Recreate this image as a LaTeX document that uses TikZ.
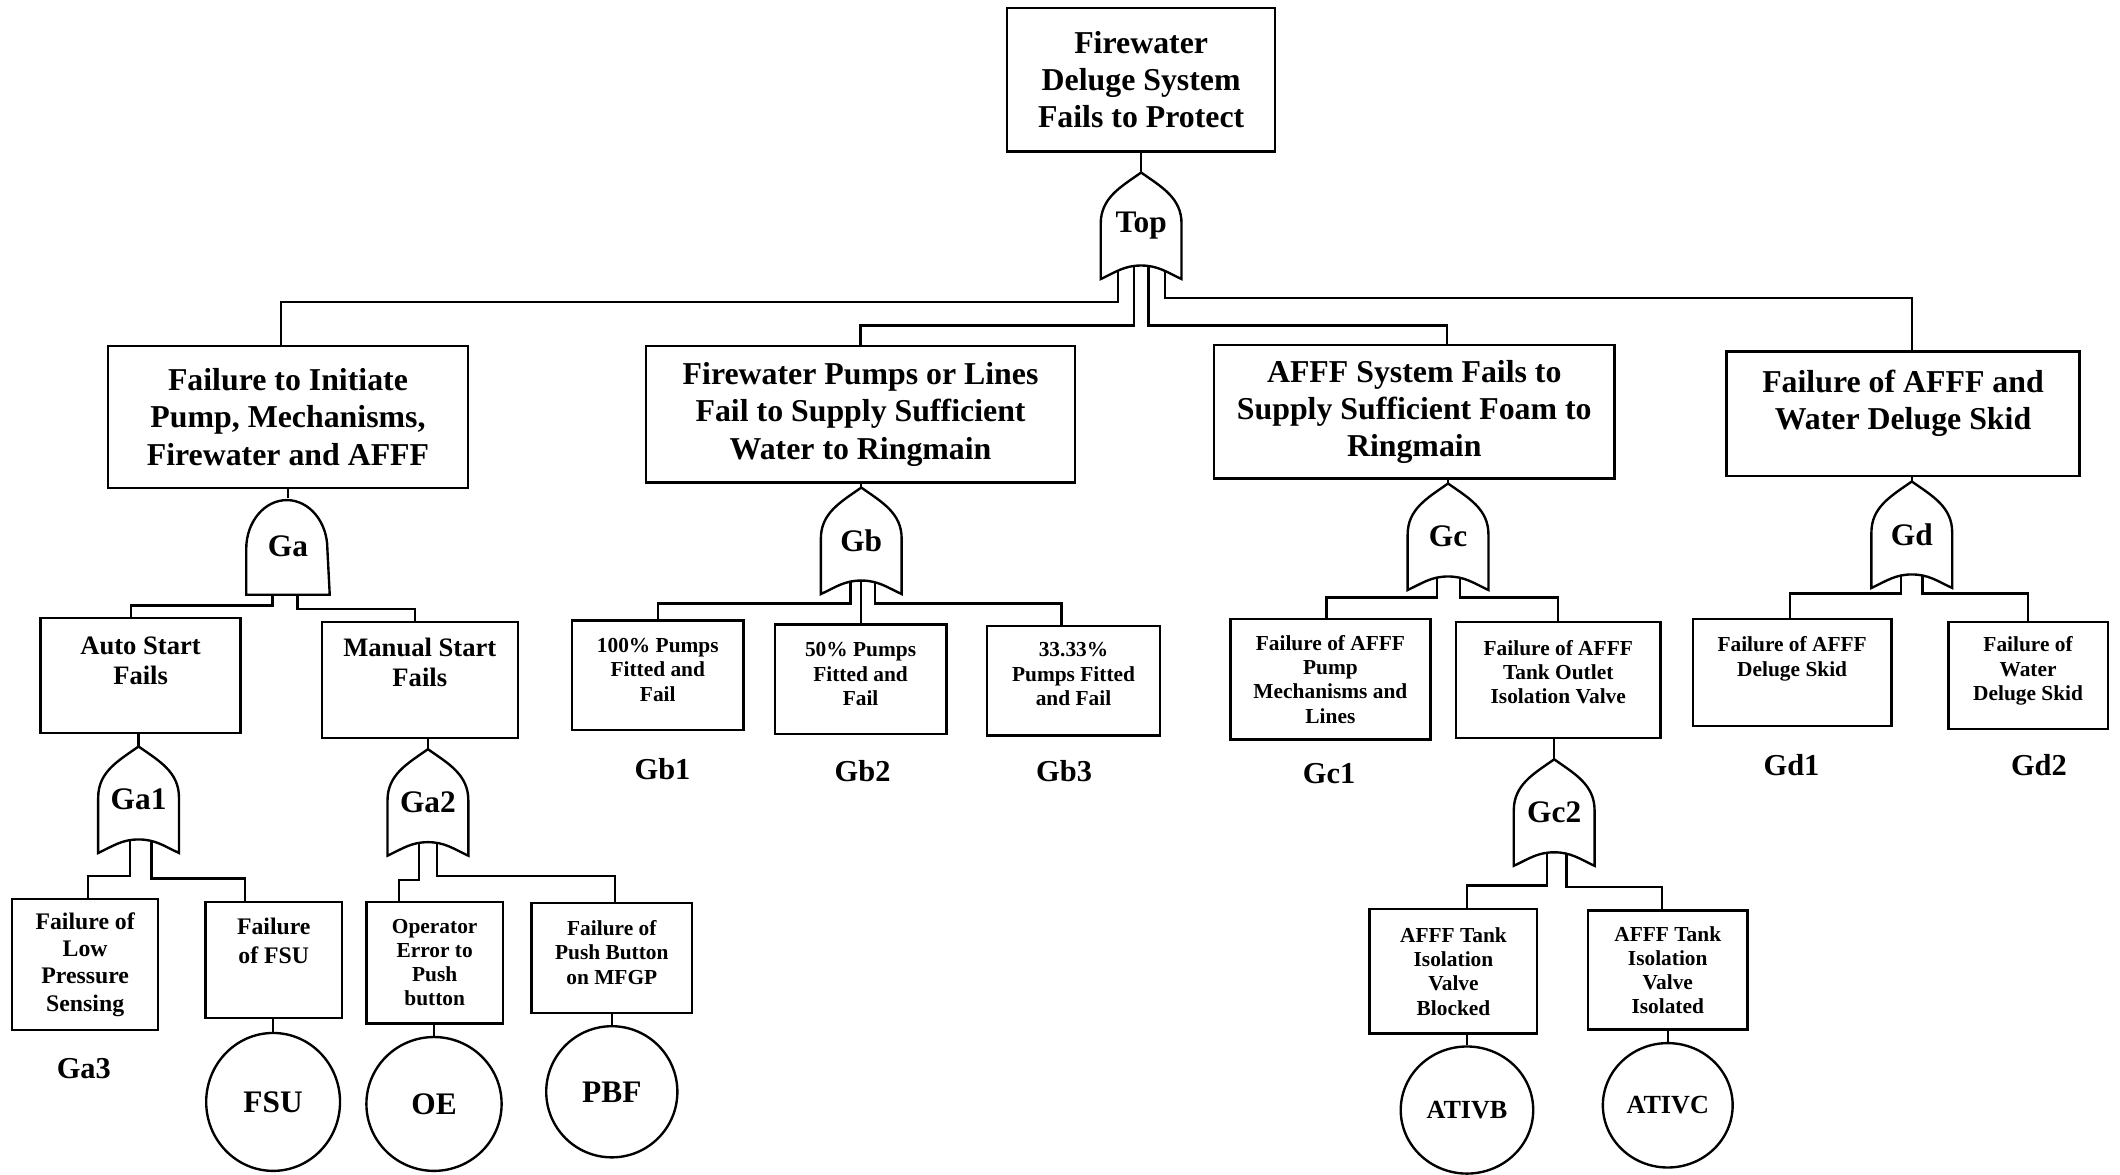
\documentclass[tikz,border=0pt]{standalone}
\usepackage{fontspec}
\setmainfont{Liberation Serif}
\usetikzlibrary{shapes.geometric}

\begin{document}
\begin{tikzpicture}[x=1cm, y=1cm, line width=0.5pt]
  \tikzset{
    box/.style 2 args={draw, inner sep=0pt, align=center, minimum width=#1, minimum height=#2},
    big/.style={font=\bfseries\fontsize{6.7}{7.8}\selectfont},
    mid/.style={font=\bfseries\fontsize{5.6}{6.3}\selectfont},
    small/.style={font=\bfseries\fontsize{4.5}{5.1}\selectfont},
    lift/.style={text depth=#1},
    tag/.style={font=\bfseries\fontsize{6.4}{7}\selectfont},
    event/.style 2 args={draw, ellipse, inner sep=0pt, minimum width=#1, minimum height=#2,
      font=\bfseries\fontsize{6.6}{7}\selectfont},
    orgate/.style={minimum width=5.8mm, minimum height=7.7mm, inner sep=0pt,
      font=\bfseries\fontsize{6.6}{7}\selectfont,
      append after command={\pgfextra{\draw
        (\tikzlastnode.south west) -- ++(0,4.1mm)
        to[out=90,in=215] (\tikzlastnode.north)
        to[out=-35,in=90] ([yshift=4.1mm]\tikzlastnode.south east)
        -- (\tikzlastnode.south east)
        to[out=155,in=0] ([yshift=1mm]\tikzlastnode.south)
        to[out=180,in=25] (\tikzlastnode.south west) -- cycle;}}},
    andgate/.style={minimum width=6mm, minimum height=7mm, inner sep=0pt,
      font=\bfseries\fontsize{6.6}{7}\selectfont,
      append after command={\pgfextra{\draw
        (\tikzlastnode.south west) -- ++(0,3.4mm)
        arc[start angle=180, end angle=0, x radius=3mm, y radius=3.6mm]
        -- (\tikzlastnode.south east) -- cycle;}}}
  }
  \useasboundingbox (0,0) rectangle (15.68,-8.69);

  % top event
  \node[box={1.98cm}{1.06cm}, big] (fire) at (8.44,-0.59) {Firewater\\Deluge System\\Fails to Protect};
  \node[orgate] (top) at (8.44,-1.67) {Top};

  % first level
  \node[box={2.66cm}{1.05cm}, big] (fa) at (2.13,-3.085) {Failure to Initiate\\Pump, Mechanisms,\\Firewater and AFFF};
  \node[box={3.17cm}{1.01cm}, big] (fb) at (6.365,-3.065) {Firewater Pumps or Lines\\Fail to Supply Sufficient\\Water to Ringmain};
  \node[box={2.96cm}{0.99cm}, big] (fc) at (10.46,-3.045) {AFFF System Fails to\\Supply Sufficient Foam to\\Ringmain};
  \node[box={2.61cm}{0.92cm}, big, lift=5.7pt] (fd) at (14.075,-3.06) {Failure of AFFF and\\Water Deluge Skid};

  \node[andgate] (ga) at (2.13,-4.04) {Ga};
  \node[orgate] (gb) at (6.37,-4.00) {Gb};
  \node[orgate] (gc) at (10.71,-3.97) {Gc};
  \node[orgate] (gd) at (14.14,-3.955) {Gd};

  % second level
  \node[box={1.48cm}{0.85cm}, mid, lift=6.2pt] (auto) at (1.04,-4.995) {Auto Start\\Fails};
  \node[box={1.45cm}{0.86cm}, mid, lift=7.4pt] (manual) at (3.105,-5.03) {Manual Start\\Fails};
  \node[box={1.27cm}{0.81cm}, small, lift=2.3pt] (gb1box) at (4.865,-4.995) {100\% Pumps\\Fitted and\\Fail};
  \node[box={1.27cm}{0.81cm}, small, lift=2.3pt] (gb2box) at (6.365,-5.025) {50\% Pumps\\Fitted and\\Fail};
  \node[box={1.28cm}{0.81cm}, small, lift=2.8pt] (gb3box) at (7.94,-5.035) {33.33\%\\Pumps Fitted\\and Fail};
  \node[box={1.48cm}{0.89cm}, small] (gc1box) at (9.84,-5.025) {Failure of AFFF\\Pump\\Mechanisms and\\Lines};
  \node[box={1.51cm}{0.86cm}, small, lift=3.4pt] (outlet) at (11.525,-5.03) {Failure of AFFF\\Tank Outlet\\Isolation Valve};
  \node[box={1.47cm}{0.79cm}, small, lift=6.8pt] (gd1box) at (13.255,-4.975) {Failure of AFFF\\Deluge Skid};
  \node[box={1.18cm}{0.79cm}, small, lift=2.8pt] (gd2box) at (15.0,-4.995) {Failure of\\Water\\Deluge Skid};

  \node[tag] (gb1) at (4.90,-5.69) {Gb1};
  \node[tag] (gb2) at (6.38,-5.70) {Gb2};
  \node[tag] (gb3) at (7.87,-5.70) {Gb3};
  \node[tag] (gc1) at (9.83,-5.72) {Gc1};
  \node[tag] (gd1) at (13.25,-5.66) {Gd1};
  \node[tag] (gd2) at (15.08,-5.66) {Gd2};

  \node[orgate] (ga1) at (1.025,-5.915) {Ga1};
  \node[orgate] (ga2) at (3.165,-5.935) {Ga2};
  \node[orgate] (gc2) at (11.495,-6.01) {Gc2};

  % third level
  \node[box={1.08cm}{0.97cm}, font=\bfseries\fontsize{5}{5.7}\selectfont] (lowp) at (0.63,-7.135) {Failure of\\Low\\Pressure\\Sensing};
  \node[box={1.01cm}{0.86cm}, font=\bfseries\fontsize{5}{6}\selectfont, lift=8pt] (fsufail) at (2.025,-7.10) {Failure\\of FSU};
  \node[box={1.01cm}{0.90cm}, small] (operr) at (3.215,-7.12) {Operator\\Error to\\Push\\button};
  \node[box={1.19cm}{0.81cm}, small, lift=2.3pt] (pushbtn) at (4.525,-7.085) {Failure of\\Push Button\\on MFGP};
  \node[box={1.24cm}{0.92cm}, small] (blocked) at (10.75,-7.185) {AFFF Tank\\Isolation\\Valve\\Blocked};
  \node[box={1.18cm}{0.88cm}, small] (isolated) at (12.335,-7.175) {AFFF Tank\\Isolation\\Valve\\Isolated};
  \node[tag] (ga3) at (0.62,-7.90) {Ga3};

  % basic events
  \node[event={0.99cm}{1.02cm}] (fsu) at (2.02,-8.15) {FSU};
  \node[event={1.0cm}{0.99cm}] (oe) at (3.21,-8.165) {OE};
  \node[event={0.97cm}{0.97cm}] (pbf) at (4.525,-8.075) {PBF};
  \node[event={0.98cm}{0.94cm}, font=\bfseries\fontsize{5.5}{6}\selectfont] (ativb) at (10.85,-8.21) {ATIVB};
  \node[event={0.96cm}{0.92cm}, font=\bfseries\fontsize{5.5}{6}\selectfont] (ativc) at (12.335,-8.175) {ATIVC};

  % connectors
  \draw (top.north) -- (fire.south);
  \draw ([xshift=-1.7mm,yshift=0.6mm]top.south) -- ++(0,-2.3mm) -| ([xshift=-0.5mm]fa.north);
  \draw ([xshift=-0.55mm,yshift=0.95mm]top.south) -- ++(0,-4.4mm) -| (fb.north);
  \draw ([xshift=0.55mm,yshift=0.95mm]top.south) -- ++(0,-4.4mm) -| ([xshift=2.4mm]fc.north);
  \draw ([xshift=1.75mm,yshift=0.6mm]top.south) -- ++(0,-2.0mm) -| ([xshift=0.65mm]fd.north);

  \draw (ga.north) -- (ga.north |- fa.south);
  \draw (gb.north) -- (gb.north |- fb.south);
  \draw (gc.north) -- (gc.north |- fc.south);
  \draw (gd.north) -- (gd.north |- fd.south);

  \draw ([xshift=-1.15mm]ga.south) -- ++(0,-0.8mm) -| ([xshift=-0.7mm]auto.north);
  \draw ([xshift=0.7mm]ga.south) -- ++(0,-1.05mm) -| ([xshift=-0.35mm]manual.north);

  \draw ([xshift=-0.8mm,yshift=0.9mm]gb.south) -- ++(0,-1.6mm) -| (gb1box.north);
  \draw ([yshift=1mm]gb.south) -- (gb.south |- gb2box.north);
  \draw ([xshift=1mm,yshift=0.9mm]gb.south) -- ++(0,-1.6mm) -| ([xshift=-0.9mm]gb3box.north);

  \draw ([xshift=-0.8mm,yshift=0.9mm]gc.south) -- ++(0,-1.45mm) -| ([xshift=-0.3mm]gc1box.north);
  \draw ([xshift=0.9mm,yshift=0.9mm]gc.south) -- ++(0,-1.45mm) -| (outlet.north);

  \draw ([xshift=-0.8mm,yshift=0.9mm]gd.south) -- ++(0,-1.3mm) -| ([xshift=-0.15mm]gd1box.north);
  \draw ([xshift=0.8mm,yshift=0.9mm]gd.south) -- ++(0,-1.3mm) -| (gd2box.north);

  \draw (ga1.north) -- (ga1.north |- auto.south);
  \draw ([xshift=-0.65mm,yshift=0.9mm]ga1.south) -- ++(0,-2.6mm) -| ([xshift=0.2mm]lowp.north);
  \draw ([xshift=0.95mm,yshift=0.9mm]ga1.south) -- ++(0,-2.8mm) -| ([xshift=-2.15mm]fsufail.north);

  \draw (ga2.north) -- (ga2.north |- manual.south);
  \draw ([xshift=-0.65mm,yshift=0.9mm]ga2.south) -- ++(0,-2.7mm) -| ([xshift=-2.65mm]operr.north);
  \draw ([xshift=0.65mm,yshift=0.9mm]ga2.south) -- ++(0,-2.4mm) -| ([xshift=0.25mm]pushbtn.north);

  \draw (gc2.north) -- (gc2.north |- outlet.south);
  \draw ([xshift=-0.55mm,yshift=0.9mm]gc2.south) -- ++(0,-2.35mm) -| ([xshift=1.0mm]blocked.north);
  \draw ([xshift=0.9mm,yshift=0.9mm]gc2.south) -- ++(0,-2.45mm) -| ([xshift=-0.45mm]isolated.north);

  \draw (fsu.north) -- (fsu.north |- fsufail.south);
  \draw (oe.north) -- (oe.north |- operr.south);
  \draw (pbf.north) -- (pbf.north |- pushbtn.south);
  \draw (ativb.north) -- (ativb.north |- blocked.south);
  \draw (ativc.north) -- (ativc.north |- isolated.south);
\end{tikzpicture}
\end{document}
